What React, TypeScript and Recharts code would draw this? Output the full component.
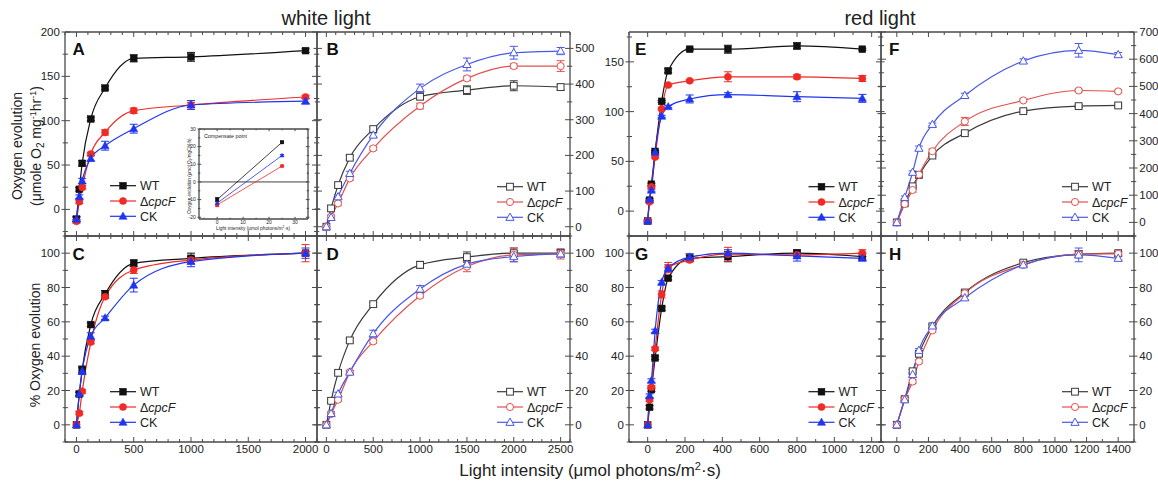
import React from 'react';
import { LineChart, Line, XAxis, YAxis, ErrorBar, ReferenceLine } from 'recharts';

const FONT = '"Liberation Sans", Arial, sans-serif';
const AXIS = '#4a4a4a';
const INK = '#222';

// light intensity values (µmol photons/m²·s)
const whiteFilledX = [0, 25, 50, 125, 250, 500, 1000, 2000];
const whiteOpenX = [0, 50, 125, 250, 500, 1000, 1500, 2000, 2500];
const redFilledX = [0, 10, 20, 40, 75, 110, 225, 430, 800, 1150];
const redOpenX = [0, 50, 100, 140, 225, 430, 800, 1150, 1400];
const insetX = [0, 25];

// A – white light, oxygen evolution (µmole O2 mg-1 hr-1)
const aWT = [-11, 22.6, 51.9, 101.9, 136.8, 170.3, 172, 179];
const aWTErr = [3, 2, 3, 2, 2, 4, 5, 2];
const aCpcF = [-13.5, 8.6, 24.8, 62.4, 86.8, 111.3, 117.7, 126.7];
const aCpcFErr = [2, 2, 2, 2, 3, 3, 3, 2];
const aCK = [-11, 14.3, 32, 57.5, 71.8, 91, 117.7, 122];
const aCKErr = [2, 2, 3, 3, 5, 5, 5, 3];

// B – white light, open symbols
const bWT = [0, 51.4, 116.8, 193.5, 273.8, 364.5, 383, 395.3, 391.6];
const bWTErr = [0, 8, 6, 6, 6, 8, 12, 14, 8];
const bCpcF = [0, 28, 65.4, 135.5, 219.6, 338.3, 416, 450.5, 450.5];
const bCpcFErr = [0, 5, 5, 5, 5, 8, 6, 6, 15];
const bCK = [0, 26, 84, 149.5, 257, 387.9, 455, 487.9, 492.5];
const bCKErr = [0, 5, 5, 6, 6, 12, 18, 18, 10];

// C – white light, % oxygen evolution
const cWT = [0, 18, 32.2, 58.4, 76.2, 94.1, 97, 100];
const cWTErr = [0, 1, 2, 1, 2, 2, 3, 1];
const cCpcF = [0, 6.8, 19.5, 48.2, 74.6, 90.2, 96, 100];
const cCpcFErr = [0, 1, 1, 1, 1, 2, 2, 5];
const cCK = [0, 18, 31.3, 51.6, 62.3, 81.4, 95.1, 100];
const cCKErr = [0, 1, 2, 2, 1, 4, 3, 3];

// D – white light, % (open symbols)
const dWT = [0, 14, 30.3, 49.2, 70.3, 93.2, 97.7, 100, 100];
const dWTErr = [0, 1, 1, 1, 1, 2, 3, 3, 2];
const dCpcF = [0, 6.3, 14.6, 30.7, 48.6, 75.2, 92.2, 99, 99.6];
const dCpcFErr = [0, 1, 1, 1, 1, 1, 3, 4, 3];
const dCK = [0, 6.6, 18, 30.7, 53.1, 79.1, 93.6, 98, 99.6];
const dCKErr = [0, 1, 1, 1, 2, 2, 2, 3, 2];

// E – red light, oxygen evolution
const eWT = [-10, 11, 27, 60, 110.3, 141, 162.7, 162.7, 166, 162.7];
const eWTErr = [1, 1, 1, 1, 1, 2, 1, 4, 3, 1];
const eCpcF = [-10, 9.3, 24.3, 54.3, 102.7, 126.7, 131, 135, 135, 133.3];
const eCpcFErr = [1, 1, 1, 1, 1, 1, 1, 5, 2, 3];
const eCK = [-10, 11.7, 21, 59.3, 95.3, 105, 112.7, 117, 115, 113.3];
const eCKErr = [1, 1, 1, 1, 1, 1, 4, 2, 5, 4];

// F – red light, open symbols
const fWT = [0, 70, 132.7, 174.4, 245.7, 328, 409, 427.5, 430];
const fWTErr = [0, 3, 3, 3, 3, 5, 5, 5, 5];
const fCpcF = [0, 67.6, 119, 175.7, 261.7, 371, 448.4, 485, 481.6];
const fCpcFErr = [0, 5, 8, 5, 8, 15, 5, 5, 5];
const fCK = [0, 92, 184.3, 272.7, 360, 466.8, 593.4, 632.7, 616.7];
const fCKErr = [0, 5, 5, 8, 5, 8, 8, 25, 8];

// G – red light, %
const gWT = [0, 10.2, 20.5, 39, 67.8, 85.4, 97, 98, 100, 98];
const gWTErr = [0, 1, 1, 1, 1, 1, 2, 3, 2, 2];
const gCpcF = [0, 14.6, 21.9, 44.3, 76, 91.6, 96, 99.4, 99, 100];
const gCpcFErr = [0, 1, 1, 1, 2, 3, 1, 4, 2, 2];
const gCK = [0, 17, 25.8, 54.7, 83, 91.2, 97.7, 100, 98.4, 97];
const gCKErr = [0, 1, 1, 1, 1, 2, 2, 2, 3, 1];

// H – red light, % (open symbols)
const hWT = [0, 15, 31.2, 41.4, 57.4, 77.1, 94.5, 99.4, 100];
const hWTErr = [0, 1, 1, 1, 1, 1, 1, 2, 1];
const hCpcF = [0, 15, 25.2, 36.9, 55, 76.6, 93.2, 99.4, 99.6];
const hCpcFErr = [0, 1, 1, 1, 1, 1, 1, 2, 1];
const hCK = [0, 14.6, 29.3, 43.4, 57.6, 74, 93.2, 99, 97];
const hCKErr = [0, 1, 1, 1, 1, 1, 1, 4, 1];

// inset – compensation point
const insetWT = [-10, 22.5];
const insetCpcF = [-13, 9];
const insetCK = [-12, 15];
const insetErr = [1, 0.5];

// tick labels
const whiteXTicks = [0, 500, 1000, 1500, 2000];
const whiteOpenXTicks = [0, 500, 1000, 1500, 2000, 2500];
const redXTicks = [0, 200, 400, 600, 800, 1000, 1200];
const redOpenXTicks = [0, 200, 400, 600, 800, 1000, 1200, 1400];
const aYTicks = [0, 50, 100, 150, 200];
const bYTicks = [0, 100, 200, 300, 400, 500];
const pctYTicks = [0, 20, 40, 60, 80, 100];
const eYTicks = [0, 50, 100, 150];
const fYTicks = [0, 100, 200, 300, 400, 500, 600, 700];
const insetXTicks = [0, 10, 20, 30];
const insetYTicks = [-20, -10, 0, 10, 20, 30];

const strains = ['WT', 'ΔcpcF', 'CK'];
type Shape = 'square' | 'circle' | 'triangle';
const shapes: Shape[] = ['square', 'circle', 'triangle'];
const filledColors = ['#111111', '#ee2b25', '#1f35f0'];
const openColors = ['#3a3a3a', '#e25050', '#4a58e6'];

type Pt = { x: number; y: number; e: number };
type Series = { name: string; shape: Shape; color: string; filled: boolean; data: Pt[] };

const mk = (xs: number[], ys: number[][], es: number[][], filled: boolean): Series[] =>
  strains.map((name, i) => ({
    name,
    shape: shapes[i],
    color: filled ? filledColors[i] : openColors[i],
    filled,
    data: xs.map((x, j) => ({ x, y: ys[i][j], e: es[i][j] })),
  }));

function marker(shape: Shape, cx: number, cy: number, color: string, filled: boolean, s = 3.4, key?: React.Key) {
  const fill = filled ? color : '#fff';
  const sw = filled ? 0.5 : 1;
  if (shape === 'square')
    return <rect key={key} x={cx - s} y={cy - s} width={2 * s} height={2 * s} fill={fill} stroke={color} strokeWidth={sw} />;
  if (shape === 'circle') return <circle key={key} cx={cx} cy={cy} r={s * 1.05} fill={fill} stroke={color} strokeWidth={sw} />;
  return (
    <path
      key={key}
      d={`M${cx},${cy - s * 1.25}L${cx + s * 1.2},${cy + s * 0.9}L${cx - s * 1.2},${cy + s * 0.9}Z`}
      fill={fill}
      stroke={color}
      strokeWidth={sw}
    />
  );
}

const stepTicks = (d: number[], step: number) => {
  const out: number[] = [];
  for (let v = Math.ceil(d[0] / step) * step; v <= d[1] + 1e-9; v += step) out.push(Math.round(v * 1000) / 1000);
  return out;
};

type Side = 'bottom' | 'top' | 'left' | 'right';

const tickRenderer = (side: Side, majors: number[], label: boolean, len: number, font: number) => (p: any) => {
  const v = p.payload?.value;
  const major = majors.includes(v);
  const L = major ? len : len * 0.6;
  const out = major ? len * 0.7 : len * 0.45;
  const { x, y } = p;
  let ln: React.ReactNode = null;
  let tx: React.ReactNode = null;
  if (side === 'bottom') {
    ln = <line x1={x} y1={y} x2={x} y2={y - L} stroke={AXIS} strokeWidth={1} />;
    if (label && major)
      tx = (
        <text x={x} y={y + font * 0.95} textAnchor="middle" fontSize={font} fill={INK} fontFamily={FONT}>
          {v}
        </text>
      );
  } else if (side === 'top') {
    ln = <line x1={x} y1={y} x2={x} y2={y + L} stroke={AXIS} strokeWidth={1} />;
  } else if (side === 'left') {
    ln = <line x1={x - out} y1={y} x2={x + L} y2={y} stroke={AXIS} strokeWidth={1} />;
    if (label && major)
      tx = (
        <text x={x - out - 1.6} y={y} dy="0.35em" textAnchor="end" fontSize={font} fill={INK} fontFamily={FONT}>
          {v}
        </text>
      );
  } else {
    ln = <line x1={x - L} y1={y} x2={x + out} y2={y} stroke={AXIS} strokeWidth={1} />;
    if (label && major)
      tx = (
        <text x={x + out + 1.8} y={y} dy="0.35em" textAnchor="start" fontSize={font} fill={INK} fontFamily={FONT}>
          {v}
        </text>
      );
  }
  return (
    <g>
      {ln}
      {tx}
    </g>
  );
};

type PanelProps = {
  x0: number;
  y0: number;
  w: number;
  h: number;
  xd: number[];
  yd: number[];
  xMaj: number[];
  xStep: number;
  yMaj: number[];
  yStep: number;
  left?: boolean;
  right?: boolean;
  bottom?: boolean;
  series: Series[];
  font?: number;
  len?: number;
  ms?: number;
  lineType?: 'monotone' | 'linear';
  zero?: boolean;
};

function Panel(p: PanelProps) {
  const M = 40;
  const font = p.font ?? 11.5;
  const len = p.len ?? 5;
  const xt = stepTicks(p.xd, p.xStep);
  const yt = stepTicks(p.yd, p.yStep);
  const axisLine = { stroke: AXIS, strokeWidth: 1.3 };
  const common = { tickSize: 0, tickMargin: 0, tickLine: false, interval: 0 as const, allowDataOverflow: true, axisLine };
  // axes are 1px thick boxes, so margins are M - 1 to keep the plot area at M
  return (
    <div style={{ position: 'absolute', left: p.x0 - M, top: p.y0 - M }}>
      <LineChart width={p.w + 2 * M} height={p.h + 2 * M} margin={{ top: M - 1, right: M - 1, bottom: M - 1, left: M - 1 }}>
        <XAxis xAxisId="b" type="number" dataKey="x" domain={p.xd} ticks={xt} height={1} {...common} tick={tickRenderer('bottom', p.xMaj, !!p.bottom, len, font)} />
        <XAxis xAxisId="t" orientation="top" type="number" dataKey="x" domain={p.xd} ticks={xt} height={1} {...common} tick={tickRenderer('top', p.xMaj, false, len, font)} />
        <YAxis yAxisId="l" type="number" domain={p.yd} ticks={yt} width={1} {...common} tick={tickRenderer('left', p.yMaj, !!p.left, len, font)} />
        <YAxis yAxisId="r" orientation="right" type="number" domain={p.yd} ticks={yt} width={1} {...common} tick={tickRenderer('right', p.yMaj, !!p.right, len, font)} />
        {p.zero && <ReferenceLine xAxisId="b" yAxisId="l" y={0} stroke="#111" strokeWidth={0.8} />}
        {p.series.map((s) => (
          <Line
            key={s.name}
            xAxisId="b"
            yAxisId="l"
            data={s.data}
            dataKey="y"
            type={p.lineType ?? 'monotone'}
            stroke={s.color}
            strokeWidth={p.ms ? 0.8 : 1.2}
            isAnimationActive={false}
            activeDot={false}
            dot={(d: any) => marker(s.shape, d.cx, d.cy, s.color, s.filled, p.ms ?? 3.4, `${s.name}-${d.index}`)}
          >
            <ErrorBar dataKey="e" width={p.ms ? 2 : 4} stroke={s.color} strokeWidth={1} direction="y" />
          </Line>
        ))}
      </LineChart>
    </div>
  );
}

const panelA = mk(whiteFilledX, [aWT, aCpcF, aCK], [aWTErr, aCpcFErr, aCKErr], true);
const panelB = mk(whiteOpenX, [bWT, bCpcF, bCK], [bWTErr, bCpcFErr, bCKErr], false);
const panelC = mk(whiteFilledX, [cWT, cCpcF, cCK], [cWTErr, cCpcFErr, cCKErr], true);
const panelD = mk(whiteOpenX, [dWT, dCpcF, dCK], [dWTErr, dCpcFErr, dCKErr], false);
const panelE = mk(redFilledX, [eWT, eCpcF, eCK], [eWTErr, eCpcFErr, eCKErr], true);
const panelF = mk(redOpenX, [fWT, fCpcF, fCK], [fWTErr, fCpcFErr, fCKErr], false);
const panelG = mk(redFilledX, [gWT, gCpcF, gCK], [gWTErr, gCpcFErr, gCKErr], true);
const panelH = mk(redOpenX, [hWT, hCpcF, hCK], [hWTErr, hCpcFErr, hCKErr], false);
const panelInset = mk(insetX, [insetWT, insetCpcF, insetCK], [insetErr, insetErr, insetErr], true);

function StrainLabel({ name }: { name: string }) {
  if (name.startsWith('Δ'))
    return (
      <>
        <tspan>Δ</tspan>
        <tspan fontStyle="italic">{name.slice(1)}</tspan>
      </>
    );
  return <>{name}</>;
}

function LegendBox({ x, y, filled }: { x: number; y: number; filled: boolean }) {
  return (
    <g>
      {strains.map((name, i) => {
        const cy = y + i * 15.3;
        const c = filled ? filledColors[i] : openColors[i];
        return (
          <g key={name}>
            <line x1={x} y1={cy} x2={x + 26} y2={cy} stroke={c} strokeWidth={1.2} />
            {marker(shapes[i], x + 13, cy, c, filled, 3.4)}
            <text x={x + 30} y={cy} dy="0.36em" fontSize={12.5} fill={INK} fontFamily={FONT}>
              <StrainLabel name={name} />
            </text>
          </g>
        );
      })}
    </g>
  );
}

const letters = [
  { t: 'A', x: 72.5, y: 55 },
  { t: 'B', x: 326.5, y: 55 },
  { t: 'C', x: 72.5, y: 260 },
  { t: 'D', x: 326.5, y: 260 },
  { t: 'E', x: 635, y: 55 },
  { t: 'F', x: 889, y: 55 },
  { t: 'G', x: 635, y: 260 },
  { t: 'H', x: 889, y: 260 },
];

export default function App() {
  const top = { w: 252, h: 204 };
  const bot = { w: 252, h: 206 };
  return (
    <div style={{ position: 'absolute', left: 0, top: 0, width: 1158, height: 484, background: '#fff', overflow: 'hidden', fontFamily: FONT }}>
      <Panel x0={65} y0={32} {...top} xd={[-100, 2100]} yd={[-30, 200]} xMaj={whiteXTicks} xStep={100} yMaj={aYTicks} yStep={25} left series={panelA} />
      <Panel x0={317} y0={32} {...top} w={253} xd={[-100, 2600]} yd={[-26, 546]} xMaj={whiteOpenXTicks} xStep={100} yMaj={bYTicks} yStep={50} right series={panelB} />
      <Panel x0={65} y0={236} {...bot} xd={[-100, 2100]} yd={[-10, 110]} xMaj={whiteXTicks} xStep={100} yMaj={pctYTicks} yStep={10} left bottom series={panelC} />
      <Panel x0={317} y0={236} {...bot} w={253} xd={[-100, 2600]} yd={[-10, 110]} xMaj={whiteOpenXTicks} xStep={100} yMaj={pctYTicks} yStep={10} right bottom series={panelD} />
      <Panel x0={629} y0={32} {...top} xd={[-100, 1250]} yd={[-25, 180]} xMaj={redXTicks} xStep={100} yMaj={eYTicks} yStep={25} left series={panelE} />
      <Panel x0={881} y0={32} {...top} w={253} xd={[-100, 1500]} yd={[-50, 700]} xMaj={redOpenXTicks} xStep={100} yMaj={fYTicks} yStep={50} right series={panelF} />
      <Panel x0={629} y0={236} {...bot} xd={[-100, 1250]} yd={[-10, 110]} xMaj={redXTicks} xStep={100} yMaj={pctYTicks} yStep={10} left bottom series={panelG} />
      <Panel x0={881} y0={236} {...bot} w={253} xd={[-100, 1500]} yd={[-10, 110]} xMaj={redOpenXTicks} xStep={100} yMaj={pctYTicks} yStep={10} right bottom series={panelH} />
      <Panel
        x0={199}
        y0={129}
        w={109}
        h={90}
        xd={[-7, 35]}
        yd={[-21, 30]}
        xMaj={insetXTicks}
        xStep={5}
        yMaj={insetYTicks}
        yStep={5}
        left
        bottom
        series={panelInset}
        font={5}
        len={2.2}
        ms={1.7}
        lineType="linear"
        zero
      />
      <svg width={1158} height={484} style={{ position: 'absolute', left: 0, top: 0, pointerEvents: 'none' }} fontFamily={FONT}>
        <text x={326} y={25} textAnchor="middle" fontSize={20} fill={INK}>
          white light
        </text>
        <text x={880} y={25} textAnchor="middle" fontSize={20} fill={INK}>
          red light
        </text>
        <text transform="translate(17.5,146) rotate(-90)" textAnchor="middle" dy="0.35em" fontSize={14} fill={INK}>
          Oxygen evolution
        </text>
        <text transform="translate(36,146) rotate(-90)" textAnchor="middle" dy="0.35em" fontSize={14} fill={INK}>
          (μmole O
          <tspan dy="3" fontSize={10}>
            2
          </tspan>
          <tspan dy="-3"> mg</tspan>
          <tspan dy="-5" fontSize={9}>
            -1
          </tspan>
          <tspan dy="5">hr</tspan>
          <tspan dy="-5" fontSize={9}>
            -1
          </tspan>
          <tspan dy="5">)</tspan>
        </text>
        <text transform="translate(35,345) rotate(-90)" textAnchor="middle" dy="0.35em" fontSize={14} fill={INK}>
          % Oxygen evolution
        </text>
        <text x={590} y={476} textAnchor="middle" fontSize={17} fill={INK}>
          Light intensity (μmol photons/m
          <tspan dy="-6" fontSize={11}>
            2
          </tspan>
          <tspan dy="6">·s)</tspan>
        </text>
        {letters.map((l) => (
          <text key={l.t} x={l.x} y={l.y} fontSize={17} fontWeight="bold" fill="#111">
            {l.t}
          </text>
        ))}
        <LegendBox x={110} y={185.7} filled />
        <LegendBox x={110} y={391.7} filled />
        <LegendBox x={497} y={186.7} filled={false} />
        <LegendBox x={497} y={391.7} filled={false} />
        <LegendBox x={808.5} y={186.7} filled />
        <LegendBox x={808.5} y={391.7} filled />
        <LegendBox x={1062} y={186.7} filled={false} />
        <LegendBox x={1062} y={391.7} filled={false} />
        <text x={204} y={138} fontSize={5.3} fill={INK}>
          Compensate point
        </text>
        <text transform="translate(189.5,176) rotate(-90)" textAnchor="middle" dy="0.35em" fontSize={4.6} fill={INK}>
          Oxygen evolution (μmol O
          <tspan dy="1" fontSize={3.4}>
            2
          </tspan>
          <tspan dy="-1">/mgChl·h)</tspan>
        </text>
        <text x={253} y={229.5} textAnchor="middle" fontSize={4.8} fill={INK}>
          Light intensity (μmol photons/m
          <tspan dy="-1.5" fontSize={3.4}>
            2
          </tspan>
          <tspan dy="1.5">·s)</tspan>
        </text>
      </svg>
    </div>
  );
}
